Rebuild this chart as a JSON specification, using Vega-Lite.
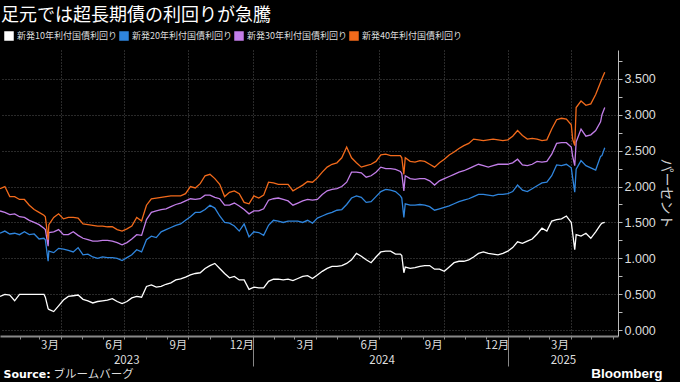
{
"$schema": "https://vega.github.io/schema/vega-lite/v6.json",
"width": 618, "height": 286,
"autosize": {"type": "none"},
"padding": {"left": 0, "top": 50, "right": 62, "bottom": 46},
"background": "#000000",
"config": {"view": {"stroke": null}, "font": "Noto Sans CJK JP"},
"title": {"text": "足元では超長期債の利回りが急騰", "anchor": "start", "frame": "group", "font": "Noto Sans CJK JP", "fontSize": 18, "fontWeight": "normal", "color": "#ffffff", "offset": 6, "dx": 1},
"resolve": {"axis": {"x": "independent"}},
"layer": [
{
"data": {"values": [
{"t":"2023/01/04","w":0.47,"b":1.35,"p":1.66,"o":1.97},
{"t":"2023/01/11","w":0.50,"b":1.38,"p":1.64,"o":2.00},
{"t":"2023/01/18","w":0.49,"b":1.34,"p":1.61,"o":1.86},
{"t":"2023/01/25","w":0.41,"b":1.35,"p":1.62,"o":1.86},
{"t":"2023/02/01","w":0.50,"b":1.33,"p":1.58,"o":1.82},
{"t":"2023/02/08","w":0.50,"b":1.37,"p":1.57,"o":1.82},
{"t":"2023/02/15","w":0.50,"b":1.33,"p":1.53,"o":1.74},
{"t":"2023/02/22","w":0.50,"b":1.34,"p":1.50,"o":1.68},
{"t":"2023/03/01","w":0.50,"b":1.27,"p":1.47,"o":1.64},
{"t":"2023/03/08","w":0.50,"b":1.28,"p":1.42,"o":1.60},
{"t":"2023/03/10","w":0.46,"b":1.26,"p":1.40,"o":1.58},
{"t":"2023/03/14","w":0.30,"b":0.96,"p":1.17,"o":1.26},
{"t":"2023/03/15","w":0.29,"b":1.10,"p":1.36,"o":1.47},
{"t":"2023/03/22","w":0.26,"b":1.08,"p":1.37,"o":1.57},
{"t":"2023/03/29","w":0.34,"b":1.14,"p":1.40,"o":1.62},
{"t":"2023/04/05","w":0.42,"b":1.13,"p":1.33,"o":1.55},
{"t":"2023/04/12","w":0.47,"b":1.11,"p":1.33,"o":1.57},
{"t":"2023/04/19","w":0.48,"b":1.09,"p":1.37,"o":1.57},
{"t":"2023/04/26","w":0.49,"b":1.15,"p":1.32,"o":1.56},
{"t":"2023/05/03","w":0.43,"b":1.05,"p":1.28,"o":1.48},
{"t":"2023/05/10","w":0.41,"b":1.06,"p":1.26,"o":1.47},
{"t":"2023/05/17","w":0.38,"b":1.02,"p":1.24,"o":1.46},
{"t":"2023/05/24","w":0.40,"b":1.00,"p":1.24,"o":1.45},
{"t":"2023/05/31","w":0.41,"b":1.02,"p":1.25,"o":1.45},
{"t":"2023/06/07","w":0.42,"b":1.01,"p":1.25,"o":1.44},
{"t":"2023/06/14","w":0.44,"b":1.01,"p":1.24,"o":1.44},
{"t":"2023/06/21","w":0.40,"b":1.00,"p":1.22,"o":1.40},
{"t":"2023/06/28","w":0.37,"b":0.97,"p":1.19,"o":1.38},
{"t":"2023/07/05","w":0.40,"b":1.01,"p":1.22,"o":1.41},
{"t":"2023/07/12","w":0.45,"b":1.05,"p":1.27,"o":1.45},
{"t":"2023/07/19","w":0.47,"b":1.12,"p":1.33,"o":1.57},
{"t":"2023/07/26","w":0.46,"b":1.09,"p":1.32,"o":1.52},
{"t":"2023/08/02","w":0.61,"b":1.26,"p":1.54,"o":1.74},
{"t":"2023/08/09","w":0.63,"b":1.31,"p":1.64,"o":1.83},
{"t":"2023/08/16","w":0.60,"b":1.29,"p":1.66,"o":1.84},
{"t":"2023/08/23","w":0.61,"b":1.37,"p":1.68,"o":1.85},
{"t":"2023/08/30","w":0.64,"b":1.40,"p":1.69,"o":1.86},
{"t":"2023/09/06","w":0.66,"b":1.43,"p":1.72,"o":1.87},
{"t":"2023/09/13","w":0.70,"b":1.46,"p":1.75,"o":1.87},
{"t":"2023/09/20","w":0.715,"b":1.48,"p":1.77,"o":1.87},
{"t":"2023/09/27","w":0.74,"b":1.53,"p":1.80,"o":1.90},
{"t":"2023/10/04","w":0.77,"b":1.58,"p":1.83,"o":2.00},
{"t":"2023/10/11","w":0.79,"b":1.64,"p":1.82,"o":1.98},
{"t":"2023/10/18","w":0.80,"b":1.64,"p":1.83,"o":2.04},
{"t":"2023/10/25","w":0.86,"b":1.68,"p":1.88,"o":2.15},
{"t":"2023/11/01","w":0.90,"b":1.74,"p":1.88,"o":2.17},
{"t":"2023/11/08","w":0.93,"b":1.70,"p":1.85,"o":2.11},
{"t":"2023/11/15","w":0.86,"b":1.59,"p":1.83,"o":2.03},
{"t":"2023/11/22","w":0.79,"b":1.50,"p":1.74,"o":1.86},
{"t":"2023/11/29","w":0.73,"b":1.49,"p":1.74,"o":1.92},
{"t":"2023/12/06","w":0.75,"b":1.45,"p":1.77,"o":1.94},
{"t":"2023/12/13","w":0.70,"b":1.38,"p":1.73,"o":1.90},
{"t":"2023/12/20","w":0.70,"b":1.48,"p":1.68,"o":1.78},
{"t":"2023/12/27","w":0.57,"b":1.30,"p":1.62,"o":1.76},
{"t":"2024/01/03","w":0.60,"b":1.37,"p":1.66,"o":1.87},
{"t":"2024/01/10","w":0.59,"b":1.36,"p":1.66,"o":1.84},
{"t":"2024/01/17","w":0.59,"b":1.32,"p":1.69,"o":1.88},
{"t":"2024/01/24","w":0.68,"b":1.46,"p":1.81,"o":2.06},
{"t":"2024/01/31","w":0.71,"b":1.53,"p":1.83,"o":2.05},
{"t":"2024/02/07","w":0.71,"b":1.52,"p":1.84,"o":2.03},
{"t":"2024/02/14","w":0.70,"b":1.50,"p":1.82,"o":2.03},
{"t":"2024/02/21","w":0.71,"b":1.52,"p":1.80,"o":2.03},
{"t":"2024/02/28","w":0.69,"b":1.52,"p":1.74,"o":1.94},
{"t":"2024/03/06","w":0.72,"b":1.52,"p":1.77,"o":1.98},
{"t":"2024/03/13","w":0.75,"b":1.50,"p":1.80,"o":2.02},
{"t":"2024/03/20","w":0.76,"b":1.53,"p":1.82,"o":2.07},
{"t":"2024/03/27","w":0.72,"b":1.49,"p":1.81,"o":2.06},
{"t":"2024/04/03","w":0.77,"b":1.56,"p":1.82,"o":2.12},
{"t":"2024/04/10","w":0.82,"b":1.59,"p":1.89,"o":2.20},
{"t":"2024/04/17","w":0.86,"b":1.62,"p":1.94,"o":2.27},
{"t":"2024/04/24","w":0.89,"b":1.64,"p":1.96,"o":2.31},
{"t":"2024/05/01","w":0.89,"b":1.67,"p":1.97,"o":2.33},
{"t":"2024/05/08","w":0.90,"b":1.68,"p":2.00,"o":2.40},
{"t":"2024/05/15","w":0.93,"b":1.75,"p":2.06,"o":2.55},
{"t":"2024/05/22","w":0.98,"b":1.84,"p":2.20,"o":2.40},
{"t":"2024/05/29","w":1.07,"b":1.87,"p":2.20,"o":2.33},
{"t":"2024/06/05","w":1.03,"b":1.85,"p":2.19,"o":2.27},
{"t":"2024/06/12","w":0.98,"b":1.78,"p":2.13,"o":2.29},
{"t":"2024/06/19","w":0.94,"b":1.79,"p":2.15,"o":2.31},
{"t":"2024/06/26","w":1.02,"b":1.86,"p":2.20,"o":2.35},
{"t":"2024/07/03","w":1.09,"b":1.93,"p":2.27,"o":2.44},
{"t":"2024/07/10","w":1.10,"b":1.96,"p":2.25,"o":2.45},
{"t":"2024/07/17","w":1.10,"b":1.95,"p":2.25,"o":2.43},
{"t":"2024/07/24","w":1.06,"b":1.93,"p":2.24,"o":2.43},
{"t":"2024/07/31","w":1.06,"b":1.87,"p":2.21,"o":2.43},
{"t":"2024/08/02","w":1.04,"b":1.84,"p":2.18,"o":2.40},
{"t":"2024/08/05","w":0.80,"b":1.57,"p":1.94,"o":2.17},
{"t":"2024/08/07","w":0.88,"b":1.76,"p":2.15,"o":2.40},
{"t":"2024/08/14","w":0.86,"b":1.74,"p":2.11,"o":2.35},
{"t":"2024/08/21","w":0.87,"b":1.74,"p":2.10,"o":2.34},
{"t":"2024/08/28","w":0.89,"b":1.75,"p":2.11,"o":2.36},
{"t":"2024/09/04","w":0.90,"b":1.74,"p":2.11,"o":2.35},
{"t":"2024/09/11","w":0.90,"b":1.72,"p":2.08,"o":2.31},
{"t":"2024/09/18","w":0.85,"b":1.67,"p":2.02,"o":2.27},
{"t":"2024/09/25","w":0.85,"b":1.69,"p":2.08,"o":2.33},
{"t":"2024/10/02","w":0.82,"b":1.71,"p":2.11,"o":2.38},
{"t":"2024/10/09","w":0.88,"b":1.73,"p":2.14,"o":2.44},
{"t":"2024/10/16","w":0.94,"b":1.76,"p":2.17,"o":2.48},
{"t":"2024/10/23","w":0.96,"b":1.79,"p":2.20,"o":2.53},
{"t":"2024/10/30","w":0.96,"b":1.81,"p":2.22,"o":2.57},
{"t":"2024/11/06","w":0.98,"b":1.83,"p":2.25,"o":2.60},
{"t":"2024/11/13","w":1.02,"b":1.86,"p":2.28,"o":2.66},
{"t":"2024/11/20","w":1.07,"b":1.89,"p":2.31,"o":2.65},
{"t":"2024/11/27","w":1.09,"b":1.89,"p":2.29,"o":2.64},
{"t":"2024/12/04","w":1.07,"b":1.88,"p":2.27,"o":2.65},
{"t":"2024/12/11","w":1.06,"b":1.87,"p":2.29,"o":2.66},
{"t":"2024/12/18","w":1.05,"b":1.89,"p":2.31,"o":2.65},
{"t":"2024/12/25","w":1.07,"b":1.89,"p":2.31,"o":2.64},
{"t":"2025/01/01","w":1.10,"b":1.90,"p":2.31,"o":2.65},
{"t":"2025/01/08","w":1.15,"b":1.93,"p":2.33,"o":2.70},
{"t":"2025/01/15","w":1.23,"b":2.02,"p":2.38,"o":2.78},
{"t":"2025/01/22","w":1.21,"b":1.95,"p":2.30,"o":2.71},
{"t":"2025/01/29","w":1.24,"b":1.93,"p":2.29,"o":2.66},
{"t":"2025/02/05","w":1.27,"b":1.97,"p":2.31,"o":2.67},
{"t":"2025/02/12","w":1.34,"b":2.01,"p":2.35,"o":2.66},
{"t":"2025/02/19","w":1.42,"b":2.05,"p":2.34,"o":2.64},
{"t":"2025/02/26","w":1.38,"b":2.06,"p":2.35,"o":2.65},
{"t":"2025/03/05","w":1.52,"b":2.15,"p":2.45,"o":2.80},
{"t":"2025/03/12","w":1.54,"b":2.30,"p":2.60,"o":2.93},
{"t":"2025/03/19","w":1.55,"b":2.29,"p":2.61,"o":2.95},
{"t":"2025/03/26","w":1.59,"b":2.31,"p":2.61,"o":2.94},
{"t":"2025/04/02","w":1.50,"b":2.26,"p":2.55,"o":2.86},
{"t":"2025/04/04","w":1.35,"b":2.12,"p":2.42,"o":2.66},
{"t":"2025/04/07","w":1.12,"b":1.92,"p":2.29,"o":2.57},
{"t":"2025/04/09","w":1.33,"b":2.24,"p":2.62,"o":3.10},
{"t":"2025/04/16","w":1.31,"b":2.36,"p":2.80,"o":3.19},
{"t":"2025/04/23","w":1.35,"b":2.29,"p":2.70,"o":3.13},
{"t":"2025/04/30","w":1.28,"b":2.26,"p":2.72,"o":3.15},
{"t":"2025/05/07","w":1.37,"b":2.23,"p":2.78,"o":3.28},
{"t":"2025/05/14","w":1.47,"b":2.42,"p":2.90,"o":3.45},
{"t":"2025/05/16","w":1.49,"b":2.43,"p":3.00,"o":3.50},
{"t":"2025/05/20","w":1.50,"b":2.54,"p":3.10,"o":3.59}
]},
"transform": [{"fold": ["w", "b", "p", "o"], "as": ["s", "v"]}],
"mark": {"type": "line", "strokeWidth": 1.3},
"encoding": {
"x": {"field": "t", "type": "temporal",
 "scale": {"domain": [{"year": 2023, "month": 1, "date": 4}, {"year": 2025, "month": 6, "date": 8}]},
 "axis": {"orient": "bottom", "tickCount": {"interval": "month", "step": 1},
  "labelExpr": "(month(datum.value) % 3 == 2 && datum.value < datetime(2025,4,15)) ? (month(datum.value)+1) + '月' : ''",
  "labelOffset": 10.5, "labelOverlap": false, "labelFlush": false, "labelColor": "#dddddd", "labelFontSize": 11.5, "labelFont": "Noto Sans CJK JP", "labelPadding": 0.5,
  "grid": true, "gridColor": "#555555", "gridDash": [1, 2],
  "gridOpacity": {"condition": {"test": "month(datum.value) % 3 == 0", "value": 1}, "value": 0},
  "tickColor": "#888888",
  "tickSize": {"condition": {"test": "month(datum.value) == 0", "value": 30}, "value": 3},
  "domainColor": "#888888", "domainWidth": 2,
  "title": "Bloomberg", "titleX": 662, "titleY": 37, "titleAlign": "right", "titleBaseline": "middle", "titleFont": "Liberation Sans", "titleFontSize": 13.5, "titleFontWeight": "bold", "titleColor": "#ffffff"}},
"y": {"field": "v", "type": "quantitative",
 "scale": {"domain": [-0.08, 3.9], "nice": false, "zero": false},
 "axis": {"orient": "right", "values": [0, 0.25, 0.5, 0.75, 1, 1.25, 1.5, 1.75, 2, 2.25, 2.5, 2.75, 3, 3.25, 3.5, 3.75],
  "labelExpr": "datum.value % 0.5 == 0 ? format(datum.value, '.3f') : ''",
  "labelOverlap": false, "labelColor": "#dddddd", "labelFontSize": 12.5, "labelFont": "Liberation Sans", "labelPadding": 2,
  "grid": true, "gridColor": "#555555", "gridDash": [1, 2],
  "gridOpacity": {"condition": {"test": "datum.value % 0.5 == 0", "value": 1}, "value": 0},
  "tickSize": 4, "tickColor": "#bbbbbb", "domainColor": "#bbbbbb",
  "title": "パーセント", "titleColor": "#cccccc", "titleFontSize": 14, "titleFontWeight": "normal", "titleFont": "Noto Sans CJK JP", "titlePadding": 3}},
"color": {"field": "s", "type": "nominal",
 "scale": {"domain": ["w", "b", "p", "o"], "range": ["#ffffff", "#2f85dd", "#c27ee8", "#f26a1b"]},
 "legend": {"orient": "none", "legendX": 4, "legendY": -19, "direction": "horizontal", "title": null,
  "symbolType": "square", "symbolSize": 64, "labelColor": "#dddddd", "labelFontSize": 9, "labelFont": "Noto Sans CJK JP", "columnPadding": 0, "labelOffset": 3, "labelLimit": 200,
  "labelExpr": "datum.label == 'w' ? '新発10年利付国債利回り' : datum.label == 'b' ? '新発20年利付国債利回り' : datum.label == 'p' ? '新発30年利付国債利回り' : '新発40年利付国債利回り'",
  "encode": {"symbols": {"update": {"fill": {"scale": "color", "field": "value"}, "stroke": {"value": "transparent"}, "opacity": {"value": 1}}}}}}
}
},
{
"data": {"values": [{"t": "2023/07/04"}, {"t": "2024/07/04"}, {"t": "2025/03/21"}]},
"mark": {"type": "point", "opacity": 0},
"encoding": {
"x": {"field": "t", "type": "temporal",
 "scale": {"domain": [{"year": 2023, "month": 1, "date": 4}, {"year": 2025, "month": 6, "date": 8}]},
 "axis": {"orient": "bottom", "values": [{"year": 2023, "month": 7, "date": 4}, {"year": 2024, "month": 7, "date": 4}, {"year": 2025, "month": 3, "date": 21}],
  "format": "%Y", "ticks": false, "domain": false, "grid": false, "labelPadding": 18, "labelFlush": false, "labelOverlap": false,
  "labelColor": "#dddddd", "labelFontSize": 11.5, "labelFont": "Noto Sans CJK JP",
  "title": "Source:", "titleX": 3, "titleY": 38.5, "titleAlign": "left", "titleBaseline": "middle", "titleFont": "DejaVu Sans", "titleFontWeight": "bold", "titleFontSize": 11, "titleColor": "#ffffff"}}
}
},
{
"data": {"values": [{"t": "2024/01/01"}]},
"mark": {"type": "point", "opacity": 0},
"encoding": {
"x": {"field": "t", "type": "temporal",
 "scale": {"domain": [{"year": 2023, "month": 1, "date": 4}, {"year": 2025, "month": 6, "date": 8}]},
 "axis": {"orient": "bottom", "labels": false, "ticks": false, "domain": false, "grid": false,
  "title": "ブルームバーグ", "titleX": 53, "titleY": 38.5, "titleAlign": "left", "titleBaseline": "middle", "titleFont": "Noto Sans CJK JP", "titleFontWeight": "normal", "titleFontSize": 11.5, "titleColor": "#dddddd"}}
}
}
]
}
